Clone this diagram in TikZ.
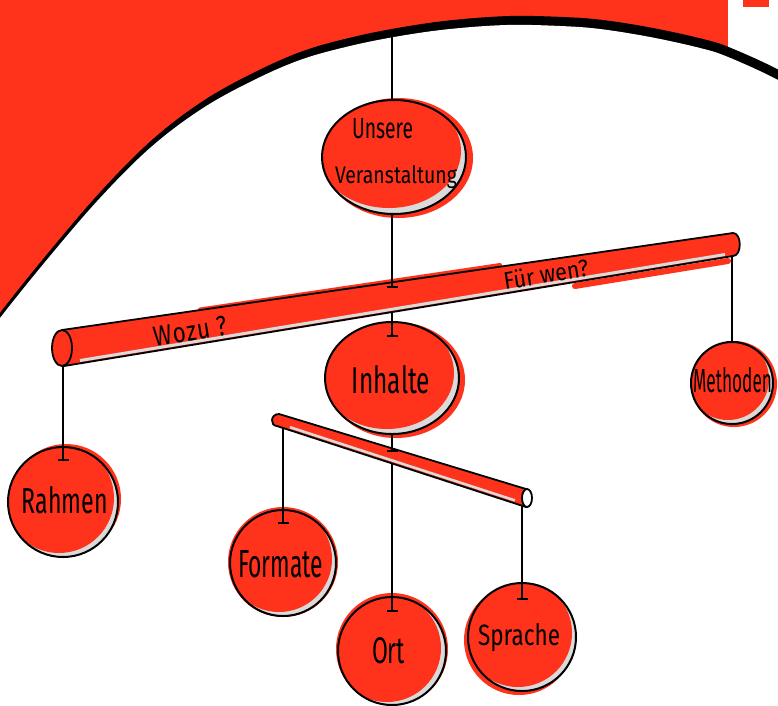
\documentclass[tikz,border=0pt]{standalone}
\usepackage{fontspec}
\setmainfont{Fira Sans}
\newfontfamily\handA[FakeStretch=0.8,Kerning=Off,LetterSpace=3]{Fira Sans}
\newfontfamily\handB[FakeStretch=0.9]{Fira Sans}
\usetikzlibrary{shapes.geometric,arrows.meta,calc}
\definecolor{ired}{RGB}{255,51,28}
\definecolor{lgray}{RGB}{218,218,218}
\newcommand\tx[3]{\resizebox{#1pt}{#2pt}{#3}}
% #1 centre, #2 rx, #3 ry, #4 shadow shift, #5 shadow grow, #6 highlight shift
\newcommand\shadeEll[6]{%
  \fill[ired] ([shift={#4}]#1) ellipse[x radius=#2+#5, y radius=#3+#5];
  \fill[lgray] (#1) ellipse[x radius=#2, y radius=#3];
  \begin{scope}
    \clip (#1) ellipse[x radius=#2, y radius=#3];
    \fill[ired] ([shift={#6}]#1) ellipse[x radius=#2, y radius=#3];
  \end{scope}}
\begin{document}
\begin{tikzpicture}[x=1pt,y=-1pt,
  conn/.style={draw=black, line width=1.7pt},
  tick/.style={-{Bar[width=11pt]}},
  ring/.style={circle, draw=black, line width=2pt, inner sep=0pt},
  ell/.style={ellipse, draw=black, line width=2pt, inner sep=0pt},
  lbl/.style={anchor=base, inner sep=0pt, text=black},
  barline/.style={draw=black, line width=1.8pt, line join=round, line cap=round}]
\useasboundingbox (0,0) rectangle (778,705);
\clip (0,0) rectangle (778,705);
% ---------- background ----------
\fill[white] (0,0) rectangle (778,705);
\fill[ired] (0,0) rectangle (728,420);
\fill[ired] (743,0) rectangle (769,7);
\fill[black, shift={(3pt,9pt)}] plot[smooth, tension=0.6] coordinates {(-40,372) (0,318) (50,256) (100,198) (150,148) (200,110) (250,82) (300,60) (350,46) (400,36) (450,29) (507,25) (560,26) (600,29) (650,37) (700,48) (728,57) (778,80) (820,106)} -- (830,740) -- (-40,740) -- cycle;
\fill[white] plot[smooth, tension=0.6] coordinates {(-40,372) (0,318) (50,256) (100,198) (150,148) (200,110) (250,82) (300,60) (350,46) (400,36) (450,29) (507,25) (560,26) (600,29) (650,37) (700,48) (728,57) (778,80) (820,106)} -- (830,740) -- (-40,740) -- cycle;
% ---------- main bar ----------
\draw[ired, line width=4pt, line cap=round] (200,309.5) -- (500,265);
\draw[ired, line width=6pt, line cap=round] (575,286) -- (728,261);
\fill[ired] (62,330) -- (733,233) .. controls (742,233) and (742,256) .. (733,256) -- (64,366) -- cycle;
\draw[lgray, line width=3pt] (80,360.5) -- (725,254.5);
\draw[barline] (62,330) -- (733,233) .. controls (742,233) and (742,256) .. (733,256) -- (64,366);
\filldraw[fill=ired, draw=black, line width=1.8pt] (62,348) ellipse[x radius=10pt, y radius=18pt];
% ---------- second bar ----------
\fill[ired] (279,414) -- (526,489) -- (526,507) -- (277,426) .. controls (270,426) and (270,414) .. (279,414) -- cycle;
\draw[lgray, line width=2.5pt] (290,427.2) -- (515,500.4);
\draw[barline] (526,489) -- (279,414) .. controls (270,414) and (270,426) .. (277,426) -- (526,507);
\filldraw[fill=white, draw=black, line width=1.8pt] (527,498) ellipse[x radius=5pt, y radius=9pt];
% ---------- attachment points ----------
\coordinate (topc) at (392,34);
\coordinate (b1top) at (392,288);
\coordinate (b1bot) at (392,311);
\coordinate (b1L) at (63,366);
\coordinate (b1R) at (732,255);
\coordinate (b2top) at (392,452);
\coordinate (b2bot) at (392,463);
\coordinate (b2L) at (283,428);
\coordinate (b2R) at (522,505);
% ---------- ellipses ----------
\shadeEll{394,157}{72pt}{57pt}{(4pt,-1pt)}{3pt}{(-5pt,6pt)}
\node[ell, minimum width=144pt, minimum height=114pt] (unsere) at (394,157) {};
\shadeEll{392,378}{67pt}{56pt}{(4pt,-2pt)}{2pt}{(-5pt,5pt)}
\node[ell, minimum width=134pt, minimum height=112pt] (inhalte) at (392,378) {};
% ---------- balls ----------
\shadeEll{732,383}{41pt}{41pt}{(2pt,-1pt)}{2pt}{(-4pt,4pt)}
\node[ring, minimum size=82pt] (methoden) at (732,383) {};
\shadeEll{63,502}{55pt}{55pt}{(3pt,3pt)}{0pt}{(-4pt,4pt)}
\node[ring, minimum size=110pt] (rahmen) at (63,502) {};
\shadeEll{283,563}{53pt}{53pt}{(0pt,1pt)}{2pt}{(-4pt,4pt)}
\node[ring, minimum size=106pt] (formate) at (283,563) {};
\shadeEll{392,651}{54pt}{54pt}{(0pt,2pt)}{2pt}{(-5pt,3pt)}
\node[ring, minimum size=108pt] (ort) at (392,651) {};
\shadeEll{522,637}{54pt}{54pt}{(-3pt,-3pt)}{1pt}{(-4pt,4pt)}
\node[ring, minimum size=108pt] (sprache) at (522,637) {};
% ---------- texts ----------
\node[lbl] (tUnsere) at (382.5,138) {\tx{61}{20}{Unsere}};
\node[lbl] (tVer) at (396,183) {\tx{122}{18}{Veranstaltung}};
\node[lbl] (tInhalte) at (391,393) {\tx{78}{28}{Inhalte}};
\node[lbl] (tMethoden) at (732.5,392) {\tx{79}{25}{Methoden}};
\node[lbl] (tRahmen) at (65,513) {\tx{86}{27}{Rahmen}};
\node[lbl] (tFormate) at (280.5,577) {\tx{85}{27}{Formate}};
\node[lbl] (tOrt) at (388.5,663) {\tx{33}{26}{Ort}};
\node[lbl] (tSprache) at (519,645) {\tx{82}{22}{Sprache}};
\node[inner sep=0pt, rotate=9, font=\handA\fontsize{28}{28}\selectfont] (tWozu) at (190,331) {Wozu ?};
\node[inner sep=0pt, rotate=9, font=\handB\fontsize{24}{24}\selectfont] (tFuer) at (546,274) {Für wen?};
% ---------- connectors ----------
\draw[conn] (topc) -- (topc |- unsere.north);
\draw[conn, tick] (unsere.south -| b1top) -- (b1top);
\draw[conn, tick] (b1bot) -- ($(inhalte.north)+(0,16)$);
\draw[conn, tick] (b1L) -- ($(rahmen.north)+(0,15)$);
\draw[conn, tick] (b1R) -- ($(methoden.north)+(0,2)$);
\draw[conn, tick] (inhalte.south) -- (b2top);
\draw[conn, tick] (b2L) -- ($(formate.north)+(0,15)$);
\draw[conn, tick] (b2bot) -- ($(ort.north)+(0,16)$);
\draw[conn, tick] (b2R) -- ($(sprache.north)+(0,18)$);
\end{tikzpicture}
\end{document}
